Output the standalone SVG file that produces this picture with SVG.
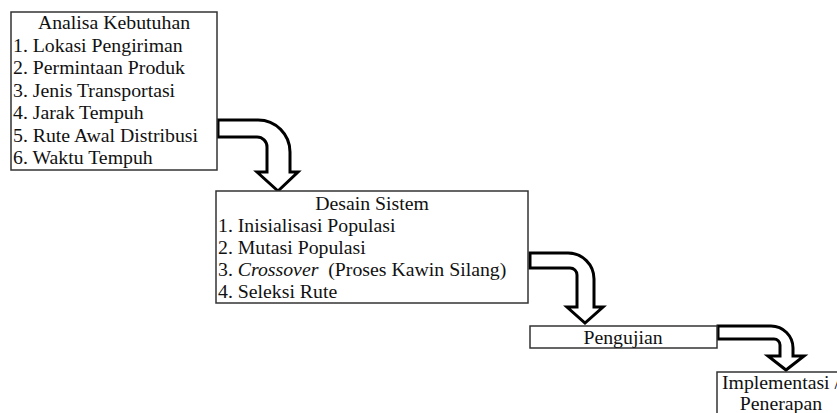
<svg xmlns="http://www.w3.org/2000/svg" width="837" height="413" viewBox="0 0 837 413" font-family="'Liberation Serif','Times New Roman',serif">
<style>
.box{fill:#fff;stroke:#333;stroke-width:1.5}
.arr{fill:#fff;stroke:#000;stroke-width:3;stroke-linejoin:miter}
text{font-family:"Liberation Serif","Times New Roman",serif;font-size:19.8px;fill:#111}
.c{text-anchor:middle}
</style>
<rect width="837" height="413" fill="#fff"/>
<g id="connectors">
<path class="arr" d="M218 120 H258 A32 32 0 0 1 290 152 V172 H298 L278 191 L257 172 H267 V147 A10 10 0 0 0 257 137 H218 Z"/>
<path class="arr" d="M530 253 H568 A26 26 0 0 1 594 279 V307 H603 L585 323 L567 307 H577 V275 A7 7 0 0 0 570 268 H530 Z"/>
<path class="arr" d="M718 326 H771 A22 22 0 0 1 793 348 V356 H804 L786 370 L768 356 H780 V345 A6 6 0 0 0 774 339 H718 Z"/>
</g>
<g id="analisa">
<rect class="box" x="11" y="12" width="206" height="158"/>
<text class="c" x="114" y="29">Analisa Kebutuhan</text>
<text x="13" y="52">1. Lokasi Pengiriman</text>
<text x="13" y="74">2. Permintaan Produk</text>
<text x="13" y="97">3. Jenis Transportasi</text>
<text x="13" y="119">4. Jarak Tempuh</text>
<text x="13" y="142">5. Rute Awal Distribusi</text>
<text x="13" y="164">6. Waktu Tempuh</text>
</g>
<g id="desain">
<rect class="box" x="216" y="191" width="312" height="112"/>
<text class="c" x="372" y="210">Desain Sistem</text>
<text x="218" y="232">1. Inisialisasi Populasi</text>
<text x="218" y="254">2. Mutasi Populasi</text>
<text x="218" y="276" xml:space="preserve">3. <tspan font-style="italic">Crossover</tspan>  (Proses Kawin Silang)</text>
<text x="218" y="298">4. Seleksi Rute</text>
</g>
<g id="pengujian">
<rect class="box" x="530" y="326" width="187" height="22"/>
<text class="c" x="623" y="344">Pengujian</text>
</g>
<g id="implementasi">
<rect class="box" x="717" y="372" width="132" height="50"/>
<text class="c" x="781" y="389">Implementasi /</text>
<text class="c" x="781" y="410">Penerapan</text>
</g>
</svg>
